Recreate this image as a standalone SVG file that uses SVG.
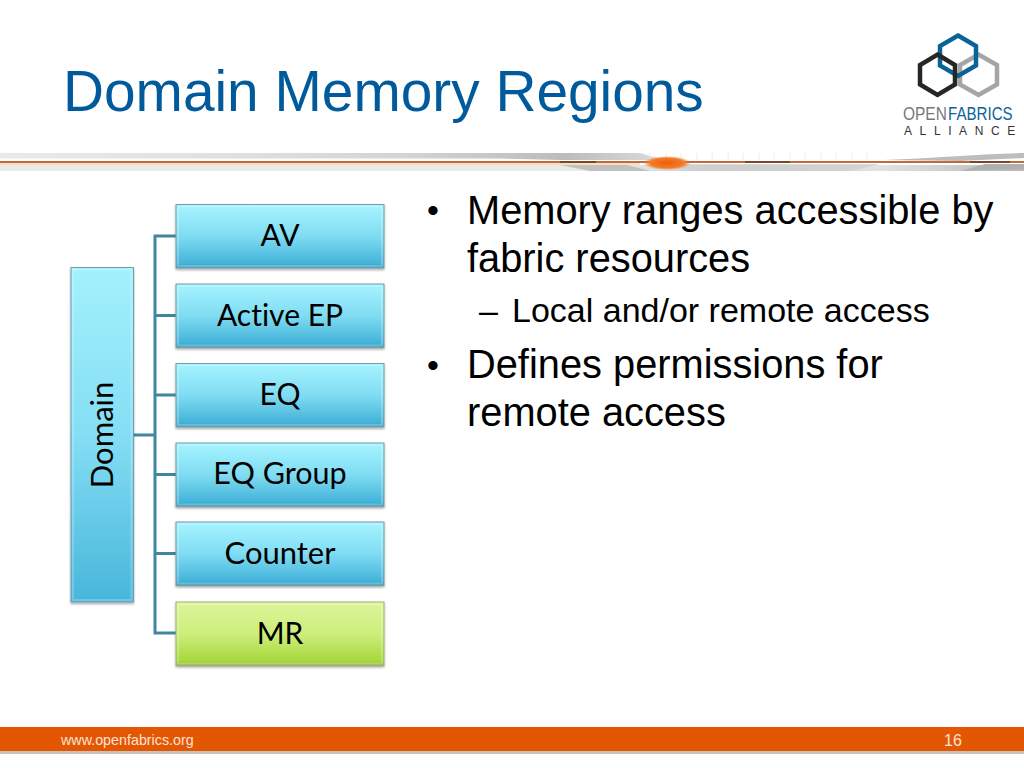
<svg xmlns="http://www.w3.org/2000/svg" width="1024" height="768" viewBox="0 0 1024 768">
<defs>
<linearGradient id="blue" x1="0" y1="0" x2="0" y2="1"><stop offset="0" stop-color="#a5f2fd"/><stop offset="0.08" stop-color="#a0f0fd"/><stop offset="0.5" stop-color="#80dcf2"/><stop offset="0.92" stop-color="#45b4da"/><stop offset="1" stop-color="#3a9fc2"/></linearGradient>
<linearGradient id="green" x1="0" y1="0" x2="0" y2="1"><stop offset="0" stop-color="#dcf59a"/><stop offset="0.5" stop-color="#cdee7c"/><stop offset="0.92" stop-color="#a8d83f"/><stop offset="1" stop-color="#93bd3a"/></linearGradient>
<linearGradient id="domainfill" x1="0" y1="0" x2="0" y2="1"><stop offset="0" stop-color="#a3f1fd"/><stop offset="0.5" stop-color="#84def4"/><stop offset="1" stop-color="#48b6db"/></linearGradient>
<linearGradient id="bandtop" x1="0" y1="0" x2="1" y2="0"><stop offset="0" stop-color="#e6e8e6"/><stop offset="0.35" stop-color="#dcdcdc"/><stop offset="0.6" stop-color="#d0d0d0"/><stop offset="0.85" stop-color="#b4b4b4"/><stop offset="1" stop-color="#d8d8d8"/></linearGradient>
<linearGradient id="swooshlow" x1="0" y1="0" x2="1" y2="0"><stop offset="0" stop-color="#e8ebe8"/><stop offset="0.6" stop-color="#e8ebe8"/><stop offset="0.72" stop-color="#c4c4c4"/><stop offset="0.86" stop-color="#e2e2e2"/><stop offset="1" stop-color="#b8b8b8"/></linearGradient>
<radialGradient id="flare"><stop offset="0" stop-color="#f05f08"/><stop offset="0.7" stop-color="#f47a28"/><stop offset="1" stop-color="#f47a28" stop-opacity="0"/></radialGradient>
<filter id="shadow" x="-5%" y="-5%" width="110%" height="115%"><feDropShadow dx="0" dy="1.500" stdDeviation="1.200" flood-color="#000" flood-opacity="0.35"/></filter>
</defs>
<style>
.t{font-family:"Liberation Sans",Arial,sans-serif}
.title{font-size:56.800px;fill:#005a9c}
.b1{font-size:39.800px;fill:#000}
.b2{font-size:34px;fill:#000}
.bu{font-size:34px;fill:#000}
.box{stroke:#6f9fb0;stroke-width:1;filter:url(#shadow)}
.bev{fill:none;stroke:#fff;stroke-opacity:.22;stroke-width:2}
.lbl{font-family:Lato,"Open Sans",sans-serif;font-size:30px;fill:#000;text-anchor:middle;font-variant-ligatures:none}
.conn{fill:none;stroke:#41869f;stroke-width:3}
.grid{stroke:#ececec;stroke-width:1}
</style>
<rect width="1024" height="768" fill="#fff"/>
<text class="t title" x="63" y="111">Domain Memory Regions</text>

<g id="logo" fill="none" stroke-width="4.500">
<polygon id="hex-gray" points="978.500,54.500 997,65 997,84.500 978.500,95 960,84.500 960,65" stroke="#a5a5a5"/>
<polygon id="hex-blue" points="958,35.500 976,46 976,65.500 958,76 940,65.500 940,46" stroke="#0a6398"/>
<polygon id="hex-black" points="937.500,54.500 955,65 955,84.500 937.500,95 920,84.500 920,65" stroke="#262626"/>
<text class="t" transform="translate(903 120) scale(.815 1)" font-size="19" fill="#77787b" stroke="none">OPEN</text>
<text class="t" transform="translate(948 120) scale(.795 1)" font-size="19" fill="#0a6398" stroke="none">FABRICS</text>
<text class="t" x="904" y="135" font-size="12" fill="#333" letter-spacing="7.600" stroke="none">ALLIANCE</text>
</g>

<g id="divider">
<path d="M0 153H640L664 160H560L500 158.500H0Z" fill="url(#bandtop)" opacity=".9"/>
<path d="M884 160C930 158 980 154 1024 153V158L960 161Z" fill="#bdbdbd"/>
<path d="M650 153V160M666 153V160M681 153V160M697 153V160M712 153V160M728 153V160M743 153V160M759 153V160M774 153V160M790 153V160M805 153V160M821 153V160M836 153V160M852 153V160M867 153V160" class="grid"/>
<rect x="0" y="165" width="1024" height="6" fill="url(#swooshlow)"/>
<path d="M550 163H620L650 171H590Z" fill="#c0c0c0"/>
<path d="M670 164H880L850 171H690Z" fill="#cfcfcf" opacity=".8"/>
<path d="M985 164H1024V169L960 171Z" fill="#b0b0b0"/>
<rect x="0" y="161" width="1024" height="2" fill="#c2693a"/>
<rect x="0" y="163" width="640" height="2" fill="#f9dcc4"/>
<rect x="560" y="161" width="36" height="2" fill="#5c3a20" opacity=".7"/>
<rect x="745" y="161" width="45" height="2" fill="#5c3a20" opacity=".7"/>
<rect x="970" y="161" width="40" height="2" fill="#5c3a20" opacity=".7"/>
<ellipse cx="667" cy="163" rx="24" ry="7" fill="url(#flare)"/>
</g>

<g id="connectors">
<path class="conn" d="M133 435H155"/>
<path class="conn" d="M176 236H155V633H176"/>
<path class="conn" d="M155 315.500H176M155 395H176M155 474.500H176M155 553.500H176"/>
</g>

<g id="domain"><rect class="box" x="71" y="267.500" width="62.500" height="334.500" fill="url(#domainfill)"/><rect class="bev" x="73" y="269.500" width="58.500" height="330.500"/>
<text class="lbl" transform="translate(113 435) rotate(-90)" style="font-size:31px">Domain</text></g>
<g id="av"><rect class="box" x="176" y="204.500" width="208" height="63.500" fill="url(#blue)"/><rect class="bev" x="178" y="206.500" width="204" height="59.500"/><text class="lbl" x="280" y="246">AV</text></g>
<g id="active-ep"><rect class="box" x="176" y="284" width="208" height="63.500" fill="url(#blue)"/><rect class="bev" x="178" y="286" width="204" height="59.500"/><text class="lbl" x="280" y="326">Active EP</text></g>
<g id="eq"><rect class="box" x="176" y="363.500" width="208" height="63.500" fill="url(#blue)"/><rect class="bev" x="178" y="365.500" width="204" height="59.500"/><text class="lbl" x="280" y="405">EQ</text></g>
<g id="eq-group"><rect class="box" x="176" y="443" width="208" height="63.500" fill="url(#blue)"/><rect class="bev" x="178" y="445" width="204" height="59.500"/><text class="lbl" x="280" y="484" style="font-size:30.500px">EQ Group</text></g>
<g id="counter"><rect class="box" x="176" y="522" width="208" height="63.500" fill="url(#blue)"/><rect class="bev" x="178" y="524" width="204" height="59.500"/><text class="lbl" x="280" y="564" style="font-size:31px">Counter</text></g>
<g id="mr"><rect class="box" x="176" y="602" width="208" height="63.500" fill="url(#green)" style="stroke:#9bb56a"/><rect class="bev" x="178" y="604" width="204" height="59.500"/><text class="lbl" x="280" y="644">MR</text></g>

<g id="bullets">
<text class="t bu" x="427" y="222">•</text>
<text class="t b1" x="467" y="224">Memory ranges accessible by</text>
<text class="t b1" x="467" y="272">fabric resources</text>
<text class="t b2" x="479" y="322">–</text>
<text class="t b2" x="512" y="322">Local and/or remote access</text>
<text class="t bu" x="427" y="377">•</text>
<text class="t b1" x="467" y="378">Defines permissions for</text>
<text class="t b1" x="467" y="426">remote access</text>
</g>

<g id="footer">
<rect x="0" y="751" width="1024" height="3" fill="#c9c1ba"/>
<rect x="0" y="727" width="1024" height="24" fill="#e35703"/>
<text class="t" x="61" y="745" font-size="14.300" fill="#fbe3d3">www.openfabrics.org</text>
<text class="t" x="944" y="746" font-size="16" fill="#fbe3d3">16</text>
</g>
</svg>
